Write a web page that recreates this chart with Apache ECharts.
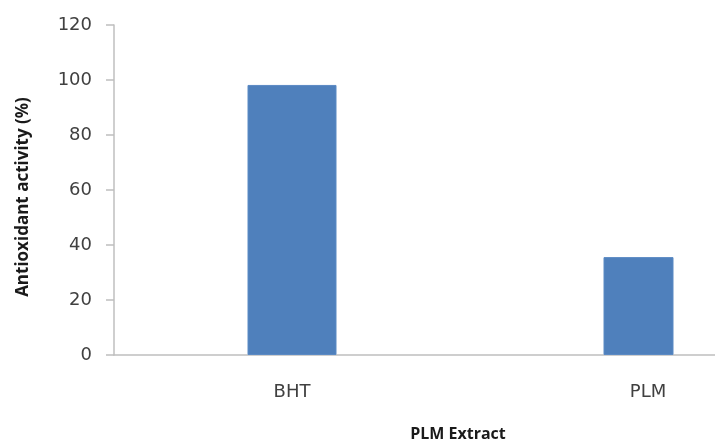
<!DOCTYPE html>
<html>
<head>
<meta charset="utf-8">
<script src="https://cdn.jsdelivr.net/npm/echarts@6/dist/echarts.min.js"></script>
<style>
html,body{margin:0;padding:0;background:#fff;}
#chart{width:715px;height:442px;}
</style>
</head>
<body>
<div id="chart"></div>
<script>
var categories = ['BHT', 'PLM'];
var values = [98.2, 35.6];
var yTicks = [0, 20, 40, 60, 80, 100, 120];
var xTitle = 'PLM Extract';
var yTitle = 'Antioxidant activity (%)';

var barWidths = [89, 70];
// PLM series first so that BHT (last) sits centred on its category
var order = [1, 0];
var series = order.map(function (idx) {
  var d = categories.map(function (c, i) { return i === idx ? values[i] : '-'; });
  return {
    type: 'bar',
    name: categories[idx],
    data: d,
    barWidth: barWidths[idx],
    barGap: '-100%',
    itemStyle: { color: '#4f80bc', borderColor: '#5b8ac4', borderWidth: 1 }
  };
});

var chart = echarts.init(document.getElementById('chart'), null, { renderer: 'canvas' });
chart.setOption({
  animation: false,
  backgroundColor: '#ffffff',
  grid: { left: 114, right: -111, top: 25, bottom: 87, containLabel: false, outerBoundsMode: 'none' },
  xAxis: {
    type: 'category',
    data: categories,
    axisLine: { lineStyle: { color: '#bfbfbf', width: 1.5 } },
    axisTick: { show: false },
    axisLabel: { color: '#404040', fontSize: 18, fontFamily: 'DejaVu Sans', margin: 28 },
    name: xTitle,
    nameLocation: 'middle',
    nameGap: 71,
    nameTextStyle: { color: '#1a1a1a', fontSize: 16, fontWeight: 'bold', fontFamily: 'Open Sans', padding: [0, 24, 0, 0] }
  },
  yAxis: {
    type: 'value',
    min: yTicks[0],
    max: yTicks[yTicks.length - 1],
    interval: yTicks[1] - yTicks[0],
    splitLine: { show: false },
    axisLine: { show: true, lineStyle: { color: '#bfbfbf', width: 1.5 } },
    axisTick: { show: true, length: 8, lineStyle: { color: '#bfbfbf', width: 1.5 } },
    axisLabel: { color: '#404040', fontSize: 18, fontFamily: 'DejaVu Sans', margin: 22 },
    name: yTitle,
    nameLocation: 'middle',
    nameRotate: 90,
    nameGap: 82,
    nameTextStyle: { color: '#1a1a1a', fontSize: 17, fontWeight: 'bold', fontFamily: 'Open Sans', padding: [0, 14, 0, 0] }
  },
  series: series
});
</script>
</body>
</html>
